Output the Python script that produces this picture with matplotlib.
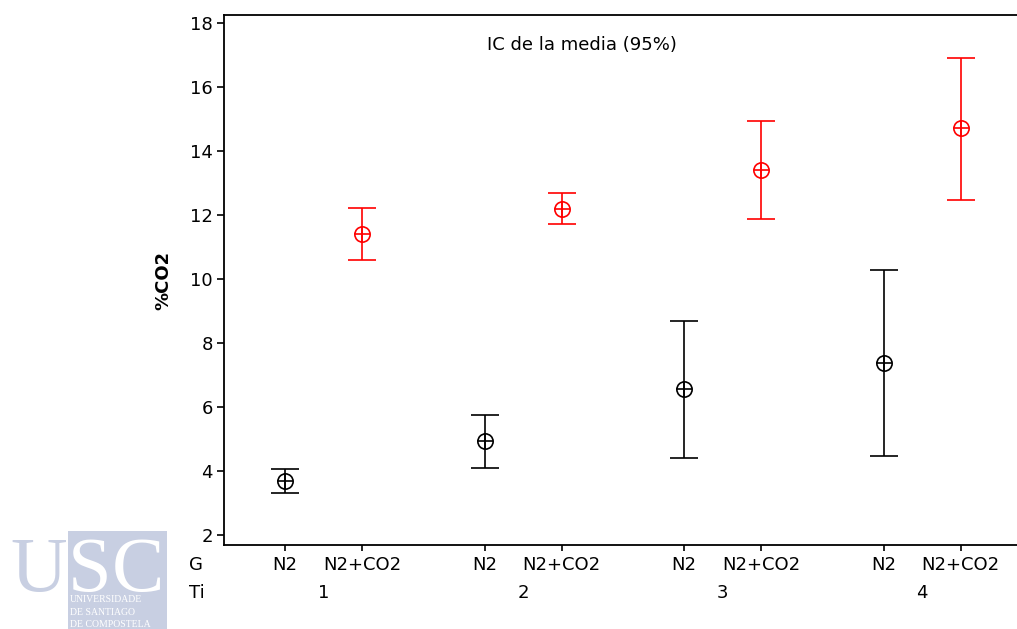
import matplotlib
matplotlib.use("Agg")
import matplotlib.pyplot as plt
from matplotlib.patches import Rectangle
from matplotlib.transforms import blended_transform_factory
import numpy as np

# 数据：%CO2 均值及 95% 置信区间
tiempos = ["1", "2", "3", "4"]
gases = ["N2", "N2+CO2"]
media_n2 = [3.69, 4.94, 6.56, 7.38]
inf_n2 = [3.31, 4.09, 4.41, 4.47]
sup_n2 = [4.06, 5.75, 8.69, 10.28]
media_co2 = [11.41, 12.19, 13.41, 14.72]
inf_co2 = [10.59, 11.72, 11.88, 12.47]
sup_co2 = [12.22, 12.69, 14.94, 16.91]
y_ticks = [2, 4, 6, 8, 10, 12, 14, 16, 18]

plt.rcParams["font.family"] = ["DejaVu Sans"]
W, H = 1017, 629
fs = 13

fig = plt.figure(figsize=(W / 100, H / 100), dpi=100)
ax = fig.add_axes([224 / W, 1 - 545 / H, (W - 224) / W, 530 / H])

# 组内偏移与组间距
paso = 0.386
x_n2 = np.arange(len(tiempos), dtype=float)
x_co2 = x_n2 + paso


def dibujar(x, media, inf, sup, color):
    media = np.array(media)
    err = [media - np.array(inf), np.array(sup) - media]
    ax.errorbar(x, media, yerr=err, fmt="none", ecolor=color,
                elinewidth=1.2, capsize=10, capthick=1.2)
    ax.plot(x, media, "o", mfc="none", mec=color, ms=11, mew=1.2)
    ax.plot(x, media, "+", color=color, ms=11, mew=1.2)


dibujar(x_n2, media_n2, inf_n2, sup_n2, "black")
dibujar(x_co2, media_co2, inf_co2, sup_co2, "red")

ax.set_xlim(-0.306, 3.669)
ax.set_ylim(1.6875, 18.25)
ax.set_yticks(y_ticks)
ax.tick_params(axis="y", labelsize=fs, length=5, width=1.2, pad=3)
xt = np.ravel(np.column_stack([x_n2, x_co2]))
ax.set_xticks(xt)
ax.set_xticklabels([])
ax.tick_params(axis="x", length=4.5, width=1.2)
for s in ["left", "bottom", "top"]:
    ax.spines[s].set_linewidth(1.3)
ax.spines["right"].set_visible(False)

fig.text(163 / W, 1 - 280 / H, "%CO2", rotation=90, ha="center", va="center",
         fontsize=fs, fontweight="bold")
fig.text(582 / W, 1 - 45 / H, "IC de la media (95%)", ha="center",
         va="center", fontsize=fs)

# 两行分类标签
trans = blended_transform_factory(ax.transData, fig.transFigure)
for xa, xb, t in zip(x_n2, x_co2, tiempos):
    ax.text(xa, 1 - 565 / H, gases[0], transform=trans, ha="center",
            va="center", fontsize=fs)
    ax.text(xb, 1 - 565 / H, gases[1], transform=trans, ha="center",
            va="center", fontsize=fs)
    ax.text((xa + xb) / 2, 1 - 593 / H, t, transform=trans, ha="center",
            va="center", fontsize=fs)
fig.text(196 / W, 1 - 565 / H, "G", ha="center", va="center", fontsize=fs)
fig.text(197 / W, 1 - 593 / H, "Ti", ha="center", va="center", fontsize=fs)

# 校徽
azul = "#c8cfe2"
fig.patches.append(Rectangle((68 / W, 0), 99 / W, 98 / H,
                             transform=fig.transFigure, facecolor=azul,
                             edgecolor="none", zorder=0))
for letra, cx, color in [("U", 38.5, azul), ("S", 90, "white"), ("C", 138, "white")]:
    fig.text(cx / W, 1 - 591 / H, letra, ha="center", va="baseline",
             fontsize=56.5, color=color, family="Liberation Serif")
for i, linea in enumerate(["UNIVERSIDADE", "DE SANTIAGO", "DE COMPOSTELA"]):
    fig.text(70 / W, 1 - (602.5 + 12.3 * i) / H, linea, ha="left",
             va="baseline", fontsize=7, color="white", family="Liberation Serif")

fig.savefig("out.png", dpi=100, facecolor="white")
